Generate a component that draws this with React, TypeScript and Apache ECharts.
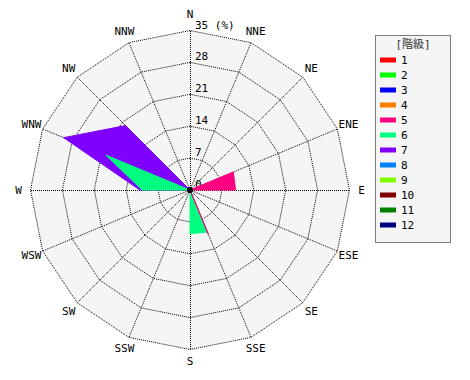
import React, { useEffect, useRef } from "react";
import * as echarts from "echarts";

// 16 wind directions, clockwise from north
const directions = ["N", "NNE", "NE", "ENE", "E", "ESE", "SE", "SSE", "S", "SSW", "SW", "WSW", "W", "WNW", "NW", "NNW"];
const levels = ["1", "2", "3", "4", "5", "6", "7", "8", "9", "10", "11", "12"];
const levelColors = ["#ff0000", "#00ff00", "#0000ff", "#ff8000", "#ff0080", "#00ff80", "#8000ff", "#0080ff", "#80ff00", "#800000", "#008000", "#000080"];
const radiusMax = 35;
const tickSplits = 5; // 0,7,14,21,28,35

// frequency (%) per direction (same order as `directions`)
const noObs = [0, 0, 0, 0, 0, 0, 0, 0, 0, 0, 0, 0, 0, 0, 0, 0];
const level5 = [0, 0, 0, 10.3, 10, 0, 0, 10.5, 0, 0, 0, 0, 0, 0, 0, 0];
const level6 = [0, 0, 0, 0, 0, 0, 0, 10, 9.6, 0, 0, 0, 10.5, 20, 0, 0];
const level7 = [0, 0, 0, 0, 0, 0, 0, 0, 0, 0, 0, 0, 11, 30, 20, 0];
const levelValues = [noObs, noObs, noObs, noObs, level5, level6, level7, noObs, noObs, noObs, noObs, noObs];

const FONT = "'DejaVu Sans Mono', 'Noto Sans CJK JP', monospace";

// ECharts radar places indicators counter-clockwise; reorder so they run clockwise
const ccwIndex = directions.map((_, i) => (directions.length - i) % directions.length);
const toRadar = (vals: number[]) => ccwIndex.map((k) => vals[k]);

export default function App() {
  const ref = useRef<HTMLDivElement>(null);
  useEffect(() => {
    document.body.style.margin = "0";
    const chart = echarts.init(ref.current!, undefined, { renderer: "svg" });
    const indicator = ccwIndex.map((k, i) => {
      const ind: any = { name: directions[k], min: 0, max: radiusMax };
      if (i === 0) {
        ind.axisLabel = {
          show: true,
          color: "#000",
          fontSize: 11,
          fontFamily: FONT,
          margin: -5,
          align: "left",
          verticalAlign: "bottom",
          formatter: (v: number) => (v === radiusMax ? `${v} (%)` : `${v}`),
        };
      }
      return ind;
    });
    const order = levels.map((_, i) => levels.length - 1 - i); // draw 12 first, 1 last
    chart.setOption({
      animation: false,
      backgroundColor: "#ffffff",
      radar: {
        center: [190, 190],
        radius: 159.5,
        startAngle: 90,
        shape: "polygon",
        splitNumber: tickSplits,
        indicator,
        nameGap: 12,
        axisName: {
          color: "#000",
          fontSize: 11,
          fontFamily: FONT,
          align: "center",
          verticalAlign: "middle",
        },
        axisLine: {
          show: true,
          lineStyle: { color: "#000", width: 1, type: [1, 1], cap: "butt" },
        },
        axisTick: { show: false },
        axisLabel: { show: false },
        splitLine: { lineStyle: { color: "#000", width: 1, type: [1, 1], cap: "butt" } },
        splitArea: { show: true, areaStyle: { color: ["#f5f5f5"] } },
      },
      legend: {
        orient: "vertical",
        left: 380,
        top: 54,
        padding: 0,
        itemWidth: 16,
        itemHeight: 5,
        itemGap: 3,
        icon: "rect",
        selectedMode: false,
        textStyle: { color: "#000", fontSize: 11, lineHeight: 12, fontFamily: FONT },
        data: levels.map((name, i) => ({ name, icon: "rect", itemStyle: { color: levelColors[i], borderWidth: 0 } })),
      },
      graphic: [
        {
          type: "rect",
          z: -1,
          shape: { x: 375.5, y: 35.5, width: 75, height: 207 },
          style: { fill: "#f5f5f5", stroke: "#000", lineWidth: 1, lineDash: [1, 1] },
        },
        {
          type: "text",
          x: 413,
          y: 44,
          style: { text: "[階級]", fill: "#333", font: `11px ${FONT}`, align: "center", verticalAlign: "middle" },
        },
      ],
      series: [
        {
          type: "radar",
          symbol: "none",
          data: order.map((i) => ({
            name: levels[i],
            value: toRadar(levelValues[i]),
            itemStyle: { color: levelColors[i] },
            lineStyle: { color: levelColors[i], width: 1 },
            areaStyle: { color: levelColors[i], opacity: 1 },
          })),
        },
        {
          // centre marker: the common origin of all direction axes
          type: "radar",
          silent: true,
          symbol: "circle",
          symbolSize: 5,
          z: 3,
          lineStyle: { width: 0 },
          itemStyle: { color: "#000" },
          data: [{ name: "origin", value: toRadar(noObs) }],
        },
      ],
    });
    return () => chart.dispose();
  }, []);
  return <div ref={ref} style={{ width: 470, height: 380 }} />;
}
